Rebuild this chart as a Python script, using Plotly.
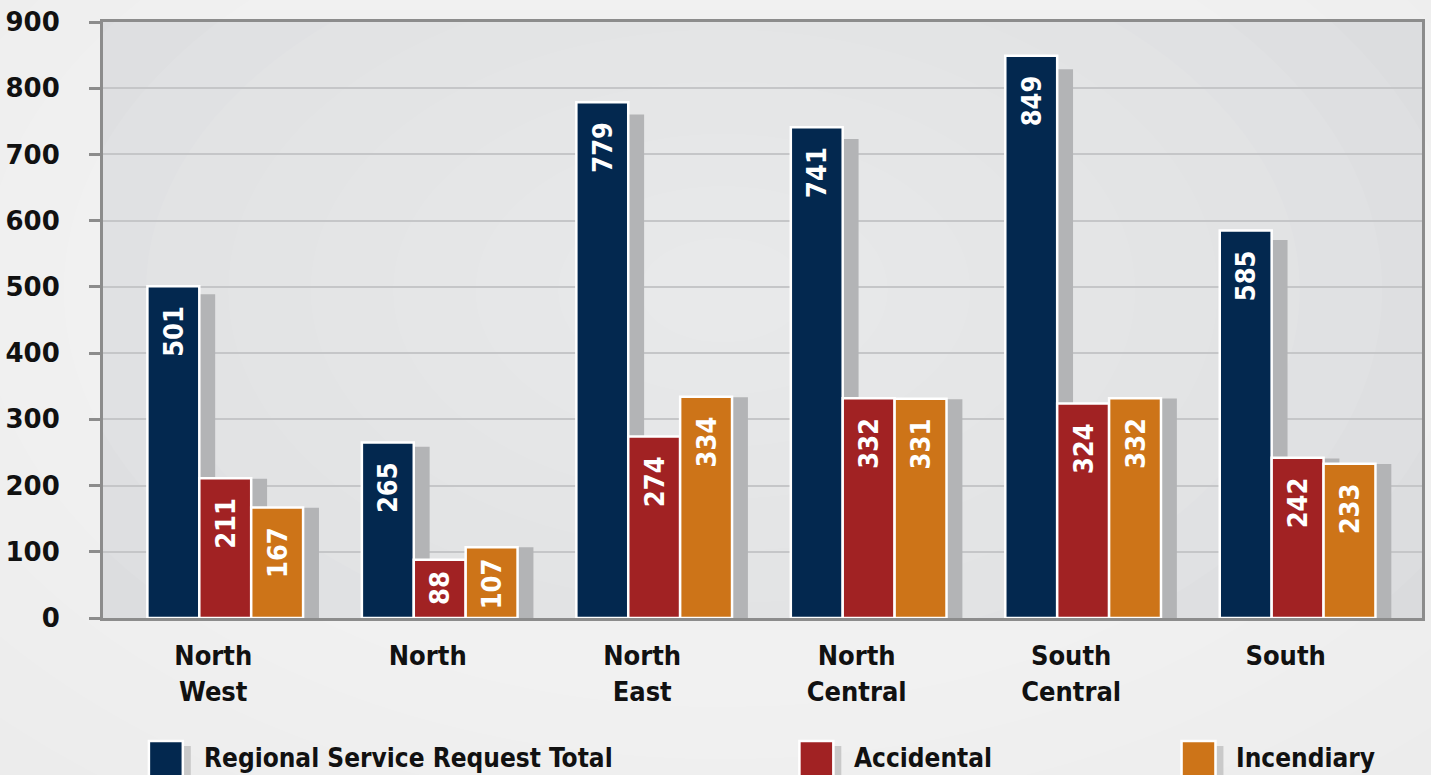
import plotly.graph_objects as go

# ---- data ----
regions = ["North<br>West", "North", "North<br>East", "North<br>Central", "South<br>Central", "South"]
total = [501, 265, 779, 741, 849, 585]
accidental = [211, 88, 274, 332, 324, 242]
incendiary = [167, 107, 334, 331, 332, 233]
series_names = ["Regional Service Request Total", "Accidental", "Incendiary"]
y_ticks = [0, 100, 200, 300, 400, 500, 600, 700, 800, 900]

# ---- style ----
colors = ["#03284f", "#a12223", "#cd7418"]
shadow_color = "#b3b4b6"
shadow_scale = [0.976, 0.996, 0.998]
W, H = 1431, 775
ML, MR, MT, MB = 103, 6, 22, 157
PW, PH = W - ML - MR, H - MT - MB
NB = "\u00a0"
FONT = "DejaVu Sans"
FONTC = "DejaVu Sans Condensed, DejaVu Sans"

bw = 0.242
offsets = [-1.5 * bw, -0.5 * bw, 0.5 * bw]
shadow_shift = 0.074

fig = go.Figure()
all_series = [total, accidental, incendiary]

# shadows
for i, vals in enumerate(all_series):
    fig.add_trace(go.Bar(
        x=regions, y=[v * shadow_scale[i] for v in vals],
        offset=offsets[i] + shadow_shift, width=bw,
        marker=dict(color=shadow_color, line=dict(width=0)),
        hoverinfo="skip", showlegend=False,
    ))

def label(v):
    pad = 2 if v > 150 else 1
    return f"{v}" + NB * pad

# main bars
for i, vals in enumerate(all_series):
    fig.add_trace(go.Bar(
        x=regions, y=vals, name=series_names[i],
        offset=offsets[i], width=bw,
        marker=dict(color=colors[i], line=dict(width=2.5, color="white")),
        text=[label(v) for v in vals],
        textposition="inside", insidetextanchor="end", textangle=-90,
        constraintext="none",
        textfont=dict(family=FONTC, size=27, color="white", weight="bold"),
        showlegend=False,
    ))

# background radial light
shapes = []
n = 12
for k in range(n):
    r = 0.75 * (1 - k / n)
    cx, cy = 0.47, 0.55
    shapes.append(dict(
        type="circle", xref="x domain", yref="y domain", layer="below",
        x0=cx - r, x1=cx + r, y0=cy - r * 1.4, y1=cy + r * 1.4,
        fillcolor="rgba(255,255,255,0.065)", line=dict(width=0),
    ))

def px_x(p):
    return (p - ML) / PW

def px_y(p):
    return (H - MB - p) / PH

annotations = []
legend_x = [148, 800, 1183]
for i, name in enumerate(series_names):
    x0 = legend_x[i]
    shapes.append(dict(type="rect", xref="paper", yref="paper",
                       x0=px_x(x0 + 36), x1=px_x(x0 + 43), y0=px_y(790), y1=px_y(746),
                       fillcolor="#c9c9c9", line=dict(width=0), layer="above"))
    shapes.append(dict(type="rect", xref="paper", yref="paper",
                       x0=px_x(x0 + 1), x1=px_x(x0 + 35), y0=px_y(790), y1=px_y(741),
                       fillcolor=colors[i], line=dict(width=2.5, color="white"), layer="above"))
    annotations.append(dict(
        x=px_x(x0 + 54), y=px_y(758), xref="paper", yref="paper",
        xanchor="left", yanchor="middle", showarrow=False, text=name,
        font=dict(family=FONTC, size=26, color="#111111", weight="bold"),
    ))

fig.update_layout(
    width=W, height=H,
    margin=dict(l=ML, r=MR, t=MT, b=MB, pad=0),
    paper_bgcolor="#ececec",
    plot_bgcolor="#d6d7d9",
    barmode="overlay",
    showlegend=False,
    shapes=shapes,
    annotations=annotations,
    xaxis=dict(
        type="category", range=[-0.57, 5.58],
        showgrid=False, showline=True, linecolor="#8c8c8c", linewidth=3,
        mirror=True, ticks="", ticklabelstandoff=12, ticklabelshift=-12,
        tickfont=dict(family=FONTC, size=27, color="#111111", weight="bold"),
        fixedrange=True,
    ),
    yaxis=dict(
        range=[0, 900], tickvals=y_ticks,
        showgrid=True, gridcolor="#c5c6c8", gridwidth=2,
        showline=True, linecolor="#8c8c8c", linewidth=3, mirror=True,
        ticks="outside", ticklen=11, tickwidth=3, tickcolor="#8c8c8c",
        ticklabelstandoff=24,
        tickfont=dict(family=FONT, size=26, color="#111111", weight="bold"),
        zeroline=False, fixedrange=True,
    ),
)

fig.write_html(
    "out.html",
    config={"displayModeBar": False},
    post_script="document.body.style.margin='0';document.body.style.background='#ececec';document.body.style.overflow='hidden';",
)
